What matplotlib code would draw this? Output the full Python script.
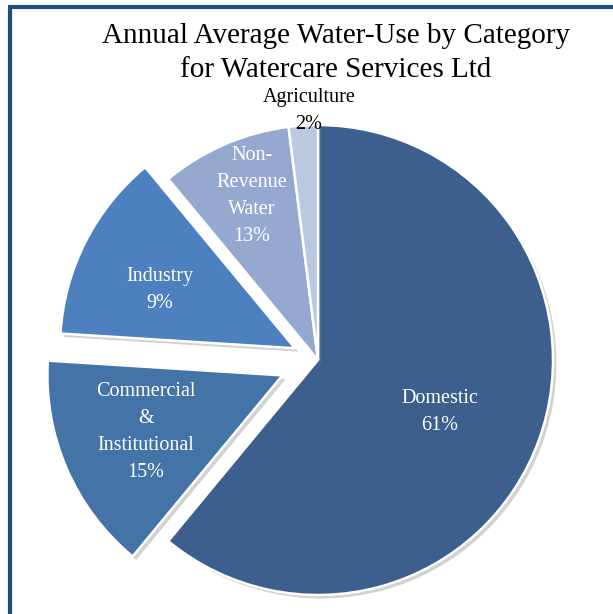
import matplotlib.pyplot as plt
import matplotlib.patheffects as pe
from matplotlib.lines import Line2D

# ---------------------------
# Data
# ---------------------------
categories = ["Domestic", "Commercial\n&\nInstitutional", "Industry",
              "Non-\nRevenue\nWater", "Agriculture"]
# percentages printed in the labels
label_pct = [61, 15, 9, 13, 2]
# wedge sizes as drawn in the original (Industry / Non-Revenue swapped there)
wedge_size = [61, 15, 13, 9, 2]
explode = [0, 0.165, 0.11, 0, 0]
colors = ["#3C5F8D", "#4473A7", "#4D80BE", "#95A9D0", "#BCC8E1"]

title = "Annual Average Water-Use by Category\nfor Watercare Services Ltd"

# ---------------------------
# Figure in pixel coordinates
# ---------------------------
W, H = 613, 614
fig = plt.figure(figsize=(W / 100, H / 100), dpi=100)
ax = fig.add_axes([0, 0, 1, 1])

radius = 235
center = (318, 254)

# pie's explode is in data units, so scale by the radius
wedges, _ = ax.pie(wedge_size, explode=[e * radius for e in explode],
                   colors=colors, startangle=90, counterclock=False,
                   radius=radius, center=center, frame=True,
                   wedgeprops=dict(edgecolor="white", linewidth=1.8))
ax.set_xlim(0, W)
ax.set_ylim(0, H)
ax.set_aspect("equal")
ax.axis("off")

for w in wedges:
    w.set_path_effects([pe.SimplePatchShadow(offset=(2.5, -2.5),
                                             shadow_rgbFace="#808080", alpha=0.35),
                        pe.Normal()])

# ---------------------------
# Labels
# ---------------------------
font = "Liberation Serif"
lab = dict(family=font, fontsize=14.5, ha="center", va="center",
           linespacing=1.55)

label_pos = [(440, 202), (146, 182), (160, 324), (252, 418), (309, 503)]
for i, (name, pct) in enumerate(zip(categories, label_pct)):
    txt = f"{name}\n{pct}%"
    col = "black" if i == 4 else "white"
    ax.text(label_pos[i][0], label_pos[i][1], txt, color=col, **lab)

ax.text(336, H - 53, title, family=font, fontsize=21, ha="center",
        va="center", linespacing=1.42, color="black")

# ---------------------------
# Frame (top + left only)
# ---------------------------
frame_col = "#244B80"
ax.add_line(Line2D([8, W], [H - 7, H - 7], color=frame_col, linewidth=3,
                   solid_capstyle="butt"))
ax.add_line(Line2D([9.5, 9.5], [0, H - 5.5], color=frame_col, linewidth=3,
                   solid_capstyle="butt"))

fig.savefig("out.png", dpi=100)
